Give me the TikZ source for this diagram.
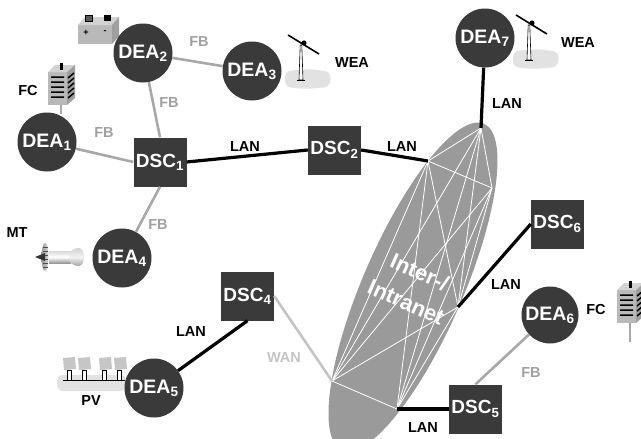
\documentclass[tikz,border=0pt]{standalone}
\usepackage{fontspec}
\setmainfont{Liberation Sans}
\definecolor{nodegray}{HTML}{3A3A3A}
\definecolor{netgray}{HTML}{9A9A9A}
\definecolor{fbgray}{HTML}{A8A8A8}
\definecolor{fbtext}{HTML}{A0A0A0}
\definecolor{wangray}{HTML}{C4C4C4}
\definecolor{groundgray}{HTML}{E2E2E2}
\definecolor{panelgray}{HTML}{C6C6C6}
\begin{document}
\begin{tikzpicture}[x=1pt,y=-1pt,
  dea/.style={circle, fill=nodegray, minimum size=59pt, inner sep=0pt, text=white,
    font=\fontsize{19.5}{20}\selectfont\bfseries},
  dsc/.style={rectangle, fill=nodegray, minimum width=53pt, minimum height=49pt, inner sep=0pt,
    text=white, font=\fontsize{19}{20}\selectfont\bfseries},
  lan/.style={line width=3.2pt, black},
  fb/.style={line width=2.6pt, fbgray},
  wan/.style={line width=2.6pt, wangray},
  mesh/.style={white, line width=0.8pt},
  lbl/.style={font=\fontsize{14.5}{15}\selectfont\bfseries, inner sep=0pt},
  fblbl/.style={lbl, text=fbtext},
  wanlbl/.style={lbl, text=wangray},
  netlbl/.style={text=white, inner sep=0pt, align=center, font=\fontsize{22}{33}\selectfont\bfseries},
  fuelcell/.pic={
    \fill[gray!55] (0,0) rectangle (19,33);
    \fill[gray!35] (0,0) -- (7,-7) -- (27,-7) -- (19,0) -- cycle;
    \fill[gray!75] (19,0) -- (27,-7) -- (27,26) -- (19,33) -- cycle;
    \fill[black] (12,-9) rectangle (15,-2);
    \foreach \s in {5,10,15,20,25}
      \draw[line width=1.5pt] (3,\s) -- (16,\s) (20,\s+1) -- (26,\s-4);
  },
  windmill/.pic={
    \fill[groundgray, rounded corners=6pt] (-16,-9) -- (10,-11) -- (30,-8) -- (29,7) -- (4,9) -- (-16,7) -- cycle;
    \filldraw[fill=white, draw=black, line width=0.6pt] (-2,0) -- (-0.8,-35) -- (0.8,-35) -- (2,0) -- cycle;
    \draw[line width=0.8pt] (-4,0) -- (4,0);
    \draw[line width=1.6pt] (-13,-45) -- (18,-26);
    \fill[black] (3,-37) circle (2.6pt);
  },
]
\useasboundingbox (0,0) rectangle (641,439);

% network cloud with its full mesh
\fill[netgray, rotate around={66.5:(413,287)}] (413,287) ellipse [x radius=178, y radius=50];
\coordinate (A) at (481,128);
\coordinate (B) at (428,161);
\coordinate (C) at (492,188);
\coordinate (D) at (458,307);
\coordinate (E) at (332,381);
\coordinate (F) at (397,409);
\foreach \p/\q in {A/B,A/C,A/D,A/E,A/F,B/C,B/D,B/E,B/F,C/D,C/E,C/F,D/E,D/F,E/F}
  \draw[mesh] (\p) -- (\q);
\node[netlbl, rotate=-24] (net) at (413,287) {Inter-/\\Intranet};

% battery
\fill[gray!55] (78,25) rectangle (112,44);
\fill[gray!35] (78,25) -- (85,17) -- (119,17) -- (112,25) -- cycle;
\fill[gray!75] (112,25) -- (119,17) -- (119,36) -- (112,44) -- cycle;
\filldraw[fill=gray!70!black, draw=black, line width=0.6pt] (85,15) rectangle (92,21);
\fill[black] (104,15) rectangle (111,21);
\node[font=\fontsize{9}{9}\selectfont\bfseries, inner sep=0pt] (plus) at (86,33) {+};
\node[font=\fontsize{9}{9}\selectfont\bfseries, inner sep=0pt] (minus) at (105,32) {-};

% fuel cells
\pic at (48,72) {fuelcell};
\draw[fb, line width=2.4pt] (61,105) -- (61,114);
\pic at (617,290) {fuelcell};
\draw[fb, line width=2.4pt] (630,323) -- (630,342);

% wind turbines
\pic at (301,80) {windmill};
\pic at (529,60) {windmill};

% micro turbine
\shade[top color=gray!30, bottom color=gray!80, middle color=white] (49,251) rectangle (71,263);
\shade[top color=gray!40, bottom color=gray!85, middle color=gray!10] (70,252) .. controls (76,246) and (84,246) .. (84,257) .. controls (84,268) and (76,268) .. (70,262) -- cycle;
\shade[left color=gray!80, right color=gray!30] (45,257) ellipse [x radius=3.5, y radius=14];
\foreach \s in {-10,-6,-2,2,6,10}
  \draw[black!70, line width=0.5pt] (42.5,257+\s) -- (47.5,257+\s);
\fill[black!80] (35,257) -- (45,253) -- (45,261) -- cycle;

% solar panels
\fill[groundgray, rounded corners=6pt] (57,375) rectangle (126,391);
\foreach \x in {63,78,99,114}
  \fill[panelgray] (\x,358) -- (\x+12,357) -- (\x+13,369) -- (\x+1,370) -- cycle;
\foreach \x in {67,82,102.5,117}
  \filldraw[fill=white, draw=black, line width=0.5pt] (\x,370) rectangle (\x+4,380);
\draw[line width=0.7pt] (63,380) -- (125,380);

% nodes
\node[dea] (dea1) at (47,142) {DEA\textsubscript{1}};
\node[dea] (dea2) at (143,53) {DEA\textsubscript{2}};
\node[dea] (dea3) at (252,71) {DEA\textsubscript{3}};
\node[dea] (dea4) at (122,258) {DEA\textsubscript{4}};
\node[dea] (dea5) at (154,388) {DEA\textsubscript{5}};
\node[dea, minimum size=57pt] (dea6) at (550,315) {DEA\textsubscript{6}};
\node[dea] (dea7) at (485,38) {DEA\textsubscript{7}};
\node[dsc] (dsc1) at (160,162) {DSC\textsubscript{1}};
\node[dsc] (dsc2) at (334.5,150) {DSC\textsubscript{2}};
\node[dsc] (dsc4) at (247.5,296) {DSC\textsubscript{4}};
\node[dsc] (dsc5) at (475.5,409) {DSC\textsubscript{5}};
\node[dsc] (dsc6) at (557.5,224) {DSC\textsubscript{6}};

% connectors
\draw[fb] (dea2) -- (dea3);
\draw[fb] (dea2) -- (dsc1.north);
\draw[fb] (dea1) -- (dsc1.west);
\draw[fb] (dsc1.south) -- (dea4);
\draw[fb] (dsc5.north) -- (dea6);
\draw[lan] (dsc1.east) -- (dsc2.west);
\draw[lan] (dsc2.east) -- (B);
\draw[lan] (dea7) -- (A);
\draw[lan] (dsc6.west) -- (D);
\draw[lan] (dsc4.south) -- (dea5);
\draw[lan] (dsc5.west) -- (F);
\draw[wan] (dsc4.east) -- (E);

% labels
\node[fblbl] (l1) at (199,42) {FB};
\node[fblbl] (l2) at (169,103) {FB};
\node[fblbl] (l3) at (104,133) {FB};
\node[fblbl] (l4) at (158,225) {FB};
\node[fblbl] (l5) at (531,373) {FB};
\node[lbl] (l6) at (245,147) {LAN};
\node[lbl] (l7) at (402,147) {LAN};
\node[lbl] (l8) at (507,104) {LAN};
\node[lbl] (l9) at (191,332) {LAN};
\node[lbl] (l10) at (506,285) {LAN};
\node[lbl] (l11) at (423,428) {LAN};
\node[wanlbl] (l12) at (284,358) {WAN};
\node[lbl] (l13) at (352,63) {WEA};
\node[lbl] (l14) at (578,43) {WEA};
\node[lbl] (l15) at (28,91) {FC};
\node[lbl] (l16) at (596,310) {FC};
\node[lbl] (l17) at (17,233) {MT};
\node[lbl] (l18) at (91,401) {PV};
\end{tikzpicture}
\end{document}
